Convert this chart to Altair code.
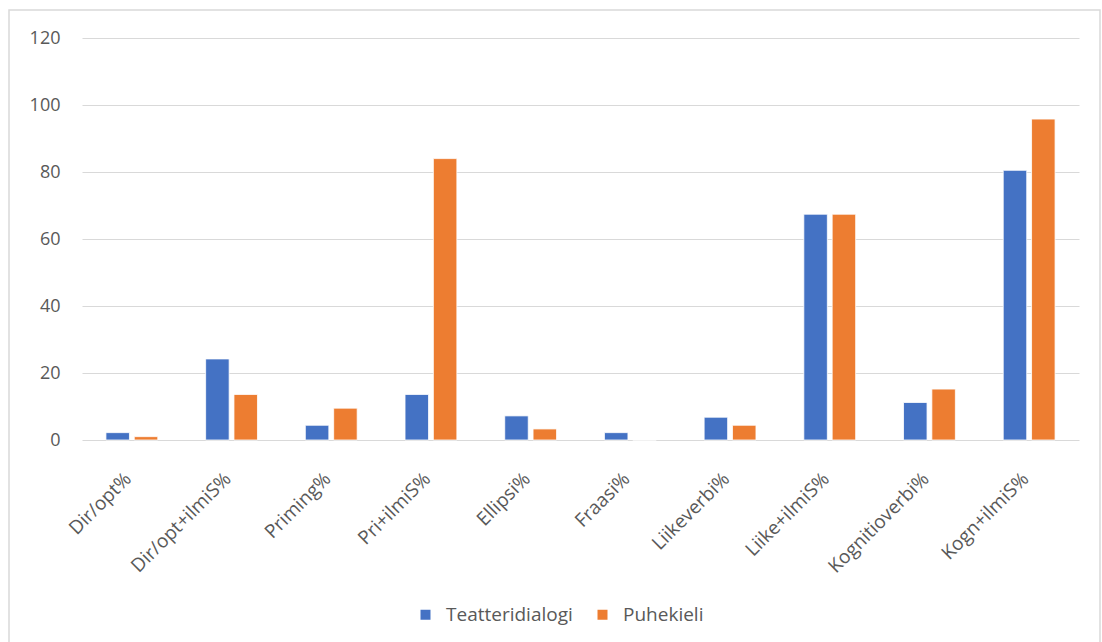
import altair as alt
import pandas as pd

categories = ["Dir/opt%", "Dir/opt+ilmiS%", "Priming%", "Pri+ilmiS%", "Ellipsi%",
              "Fraasi%", "Liikeverbi%", "Liike+ilmiS%", "Kognitioverbi%", "Kogn+ilmiS%"]
teatteridialogi = [2.2, 24.2, 4.4, 13.6, 7.2, 2.2, 6.8, 67.4, 11.2, 80.5]
puhekieli = [1.0, 13.6, 9.5, 84.0, 3.3, 0.0, 4.4, 67.4, 15.2, 95.8]
series = ["Teatteridialogi", "Puhekieli"]
colors = ["#4472C4", "#ED7D31"]
y_ticks = [0, 20, 40, 60, 80, 100, 120]

rows = []
for c, a, b in zip(categories, teatteridialogi, puhekieli):
    rows.append({"cat": c, "series": series[0], "value": a})
    rows.append({"cat": c, "series": series[1], "value": b})
df = pd.DataFrame(rows)

FONT = "Open Sans"
GRAY = "#595959"

bars = alt.Chart(df).mark_bar(stroke="white", strokeWidth=0.8).encode(
    x=alt.X("cat:N", sort=categories, title=None,
            scale=alt.Scale(paddingInner=0.48, paddingOuter=0.24),
            axis=alt.Axis(labelAngle=-45, labelFontSize=19, labelColor=GRAY,
                          labelFont=FONT, ticks=False, domain=False,
                          labelAlign="right", labelBaseline="top",
                          labelPadding=29, labelOffset=-10, grid=False)),
    xOffset=alt.XOffset("series:N", sort=series,
                        scale=alt.Scale(paddingInner=0.17, paddingOuter=0)),
    y=alt.Y("value:Q", title=None,
            scale=alt.Scale(domain=[0, 120], nice=False),
            axis=alt.Axis(values=y_ticks, labelFontSize=18, labelColor=GRAY,
                          labelFont=FONT, ticks=False, domain=False,
                          labelPadding=22, gridColor="#D9D9D9", gridWidth=1)),
    color=alt.Color("series:N", sort=series,
                    scale=alt.Scale(domain=series, range=colors),
                    legend=alt.Legend(title=None, orient="none", direction="horizontal",
                                      legendX=334, legendY=567,
                                      symbolType="square", symbolSize=100,
                                      symbolStrokeWidth=0,
                                      labelFontSize=19, labelColor=GRAY,
                                      labelFont=FONT, labelOffset=11,
                                      columnPadding=20)),
)

border = alt.Chart(pd.DataFrame({"d": [0]})).mark_rect(
    fill=None, stroke="#D9D9D9", strokeWidth=1.5
).encode(
    x=alt.value(-73), x2=alt.value(1018),
    y=alt.value(-28), y2=alt.value(620),
)

chart = alt.layer(border, bars).properties(
    width=997, height=402,
    autosize=alt.AutoSizeParams(type="none"),
    padding={"left": 82, "top": 38, "right": 23, "bottom": 202},
).configure(background="white", view=alt.ViewConfig(stroke=None))

chart.save("out.html", embed_options={"renderer": "svg", "actions": False})
